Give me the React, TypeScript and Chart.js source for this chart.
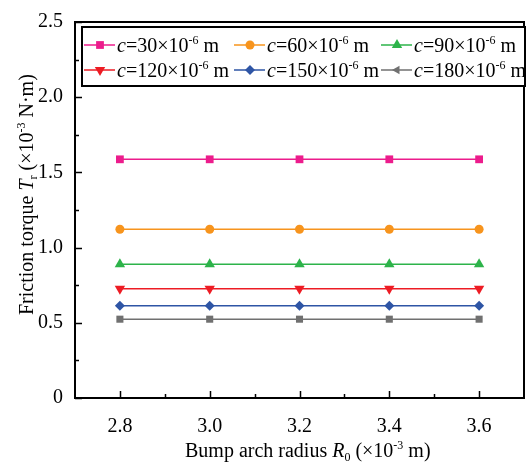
import React, { useEffect, useRef } from 'react';
import { Chart, registerables } from 'chart.js';
Chart.register(...registerables);

const radii = [2.8, 3.0, 3.2, 3.4, 3.6];
const xTickValues = [2.8, 3.0, 3.2, 3.4, 3.6];
const xMinorValues = [2.9, 3.1, 3.3, 3.5];
const yTickValues = [0, 0.5, 1.0, 1.5, 2.0, 2.5];
const yMinorValues = [0.25, 0.75, 1.25, 1.75, 2.25];
const clearanceLabels = ['30', '60', '90', '120', '150', '180'];
const torque30 = [1.587, 1.587, 1.587, 1.587, 1.587];
const torque60 = [1.122, 1.122, 1.122, 1.122, 1.122];
const torque90 = [0.889, 0.889, 0.889, 0.889, 0.889];
const torque120 = [0.726, 0.726, 0.726, 0.726, 0.726];
const torque150 = [0.613, 0.613, 0.613, 0.613, 0.613];
const torque180 = [0.524, 0.524, 0.524, 0.524, 0.524];

const FONT = '"Liberation Serif", "Times New Roman", serif';

type Seg = { t: string; it?: boolean; s?: 'sup' | 'sub' };

function segFont(seg: Seg, size: number) {
  const sz = seg.s ? Math.round(size * 0.62) : size;
  return `${seg.it ? 'italic ' : ''}${sz}px ${FONT}`;
}

function drawRich(ctx: CanvasRenderingContext2D, segs: Seg[], x: number, y: number, size: number) {
  let cx = x;
  ctx.textBaseline = 'alphabetic';
  ctx.textAlign = 'left';
  ctx.fillStyle = '#000';
  for (const seg of segs) {
    ctx.font = segFont(seg, size);
    const dy = seg.s === 'sup' ? -size * 0.4 : seg.s === 'sub' ? size * 0.22 : 0;
    ctx.fillText(seg.t, cx, y + dy);
    cx += ctx.measureText(seg.t).width;
  }
}

type SeriesDef = {
  label: string;
  data: number[];
  color: string;
  style: string;
  radius: number;
  rotation?: number;
  legendStyle: string;
};

const series: SeriesDef[] = [
  { label: clearanceLabels[0], data: torque30, color: '#EC1C8C', style: 'rect', radius: 5.5, legendStyle: 'rect' },
  { label: clearanceLabels[1], data: torque60, color: '#F7941D', style: 'circle', radius: 4.5, legendStyle: 'circle' },
  { label: clearanceLabels[2], data: torque90, color: '#2DB34A', style: 'triangle', radius: 6, legendStyle: 'triangle' },
  { label: clearanceLabels[3], data: torque120, color: '#ED1C24', style: 'triangle', radius: 6, rotation: 180, legendStyle: 'triangleDown' },
  { label: clearanceLabels[4], data: torque150, color: '#2E55A5', style: 'rectRot', radius: 5, legendStyle: 'rectRot' },
  { label: clearanceLabels[5], data: torque180, color: '#707070', style: 'rect', radius: 5, legendStyle: 'triangleLeft' },
];

function drawMarker(ctx: CanvasRenderingContext2D, style: string, x: number, y: number, r: number, color: string) {
  ctx.fillStyle = color;
  ctx.beginPath();
  if (style === 'rect') {
    const s = r * Math.SQRT1_2;
    ctx.rect(x - s, y - s, 2 * s, 2 * s);
  } else if (style === 'circle') {
    ctx.arc(x, y, r, 0, Math.PI * 2);
  } else if (style === 'rectRot') {
    ctx.moveTo(x, y - r); ctx.lineTo(x + r, y); ctx.lineTo(x, y + r); ctx.lineTo(x - r, y);
  } else {
    let a = 0;
    if (style === 'triangleDown') a = Math.PI;
    if (style === 'triangleLeft') a = -Math.PI / 2;
    for (let i = 0; i < 3; i++) {
      const ang = a + (i * 2 * Math.PI) / 3;
      const px = x + Math.sin(ang) * r;
      const py = y - Math.cos(ang) * r;
      if (i === 0) ctx.moveTo(px, py); else ctx.lineTo(px, py);
    }
  }
  ctx.closePath();
  ctx.fill();
}

const framePlugin = {
  id: 'frame',
  afterDraw(chart: any) {
    const ctx: CanvasRenderingContext2D = chart.ctx;
    const { left, right, top, bottom } = chart.chartArea;
    const xs = chart.scales.x;
    const ys = chart.scales.y;
    ctx.save();
    ctx.strokeStyle = '#000';
    ctx.lineWidth = 2;
    ctx.strokeRect(left, top, right - left, bottom - top);
    ctx.lineWidth = 1.5;
    ctx.beginPath();
    for (const v of xTickValues) {
      const px = Math.round(xs.getPixelForValue(v)) + 0.5;
      ctx.moveTo(px, bottom); ctx.lineTo(px, bottom - 7);
    }
    for (const v of xMinorValues) {
      const px = Math.round(xs.getPixelForValue(v)) + 0.5;
      ctx.moveTo(px, bottom); ctx.lineTo(px, bottom - 4);
    }
    for (const v of yTickValues) {
      const py = Math.round(ys.getPixelForValue(v)) + 0.5;
      ctx.moveTo(left, py); ctx.lineTo(left + 7, py);
    }
    for (const v of yMinorValues) {
      const py = Math.round(ys.getPixelForValue(v)) + 0.5;
      ctx.moveTo(left, py); ctx.lineTo(left + 4, py);
    }
    ctx.stroke();

    // axis titles
    drawRich(ctx, [
      { t: 'Bump arch radius ' },
      { t: 'R', it: true },
      { t: '0', s: 'sub' },
      { t: ' (×10' },
      { t: '-3', s: 'sup' },
      { t: ' m)' },
    ], 185, 457, 20);

    ctx.save();
    ctx.translate(33, 315);
    ctx.rotate(-Math.PI / 2);
    drawRich(ctx, [
      { t: 'Friction torque ' },
      { t: 'T', it: true },
      { t: 'r', s: 'sub' },
      { t: ' (×10' },
      { t: '-3', s: 'sup' },
      { t: ' N·m)' },
    ], 0, 0, 20);
    ctx.restore();

    // legend
    const bx = 82, by = 27, bw = 443, bh = 59;
    ctx.fillStyle = '#fff';
    ctx.fillRect(bx, by, bw, bh);
    ctx.strokeStyle = '#000';
    ctx.lineWidth = 2;
    ctx.strokeRect(bx, by, bw, bh);
    const colX = [84, 234, 381];
    const rowY = [45, 70];
    series.forEach((s, i) => {
      const cx = colX[i % 3];
      const cy = rowY[Math.floor(i / 3)];
      ctx.strokeStyle = s.color;
      ctx.lineWidth = 1.5;
      ctx.beginPath();
      ctx.moveTo(cx, cy); ctx.lineTo(cx + 31, cy);
      ctx.stroke();
      drawMarker(ctx, s.legendStyle, cx + 16, cy, s.radius, s.color);
      drawRich(ctx, [
        { t: 'c', it: true },
        { t: '=' + s.label + '×10' },
        { t: '-6', s: 'sup' },
        { t: ' m' },
      ], cx + 33, cy + 7, 20);
    });
    ctx.restore();
  },
};

export default function App() {
  const ref = useRef<HTMLCanvasElement>(null);
  useEffect(() => {
    const canvas = ref.current!;
    const chart = new Chart(canvas, {
      type: 'line',
      data: {
        datasets: series.map((s) => ({
          label: s.label,
          data: radii.map((r, i) => ({ x: r, y: s.data[i] })),
          borderColor: s.color,
          backgroundColor: s.color,
          borderWidth: 1.5,
          pointStyle: s.style as any,
          pointRadius: s.radius,
          pointRotation: s.rotation ?? 0,
          pointBorderWidth: 0,
          pointBackgroundColor: s.color,
          fill: false,
        })),
      },
      options: {
        animation: false,
        responsive: false,
        devicePixelRatio: 1,
        layout: { padding: { top: 22, right: 3, left: 0, bottom: 0 } },
        plugins: { legend: { display: false }, tooltip: { enabled: false } },
        scales: {
          x: {
            type: 'linear',
            min: 2.7,
            max: 3.7,
            grid: { display: false },
            border: { display: false },
            afterBuildTicks: (scale: any) => {
              scale.ticks = xTickValues.map((v) => ({ value: v }));
            },
            afterFit: (scale: any) => { scale.height = 66; },
            ticks: {
              font: { family: FONT, size: 20 },
              color: '#000',
              padding: 9,
              maxRotation: 0,
              callback: (v: any) => Number(v).toFixed(1),
            },
          },
          y: {
            type: 'linear',
            min: 0,
            max: 2.5,
            grid: { display: false },
            border: { display: false },
            afterBuildTicks: (scale: any) => {
              scale.ticks = yTickValues.map((v) => ({ value: v }));
            },
            afterFit: (scale: any) => { scale.width = 75; },
            ticks: {
              font: { family: FONT, size: 20 },
              color: '#000',
              padding: 4,
              callback: (v: any) => (Number(v) === 0 ? '0' : Number(v).toFixed(1)),
            },
          },
        },
      },
      plugins: [framePlugin],
    });
    return () => chart.destroy();
  }, []);
  return (
    <div style={{ position: 'fixed', left: 0, top: 0, width: 530, height: 464, background: '#fff' }}>
      <canvas ref={ref} width={530} height={464} style={{ width: 530, height: 464, display: 'block' }} />
    </div>
  );
}
